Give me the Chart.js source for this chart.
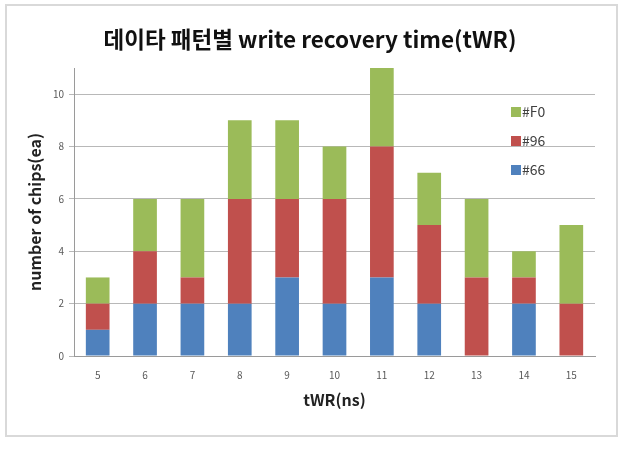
<!DOCTYPE html>
<html>
<head>
<meta charset="utf-8">
<script src="https://cdn.jsdelivr.net/npm/chart.js@4"></script>
<style>
  html, body { margin: 0; padding: 0; background: #fff; }
  #box {
    position: absolute; left: 5px; top: 4px;
    width: 613px; height: 433px;
    border: 2px solid #d9d9d9; box-sizing: border-box;
  }
  #chart { display: block; }
</style>
</head>
<body>
<div id="box"><canvas id="chart" width="609" height="429"></canvas></div>
<script>
// data
const categories = ['5', '6', '7', '8', '9', '10', '11', '12', '13', '14', '15'];
const chips66 = [1, 2, 2, 2, 3, 2, 3, 2, 0, 2, 0];
const chips96 = [1, 2, 1, 4, 3, 4, 5, 3, 3, 1, 2];
const chipsF0 = [1, 2, 3, 3, 3, 2, 3, 2, 3, 1, 3];
const yTicks = [0, 2, 4, 6, 8, 10];

const fontKr = '"Noto Sans CJK KR", "Noto Sans", sans-serif';

// legend drawn inside the plot, top item first (like the original)
const insideLegend = {
    id: 'insideLegend',
    afterDraw(chart) {
        const ctx = chart.ctx;
        const sets = chart.data.datasets.slice().reverse();
        ctx.save();
        ctx.font = '14px ' + fontKr;
        ctx.textBaseline = 'middle';
        sets.forEach((ds, i) => {
            const y = 106 + i * 29;
            ctx.fillStyle = ds.backgroundColor;
            ctx.fillRect(504, y - 5, 10, 10);
            ctx.fillStyle = '#404040';
            ctx.fillText(ds.label, 515, y);
        });
        ctx.restore();
    }
};

new Chart(document.getElementById('chart'), {
    type: 'bar',
    data: {
        labels: categories,
        datasets: [
            { label: '#66', data: chips66, backgroundColor: '#4F81BD' },
            { label: '#96', data: chips96, backgroundColor: '#C0504D' },
            { label: '#F0', data: chipsF0, backgroundColor: '#9BBB59' }
        ]
    },
    options: {
        responsive: false,
        animation: false,
        layout: { padding: { left: 18, right: 21, top: 0, bottom: 0 } },
        datasets: { bar: { barPercentage: 0.5, categoryPercentage: 1 } },
        plugins: {
            legend: { display: false },
            tooltip: { enabled: false },
            title: {
                display: true,
                text: '데이타 패턴별 write recovery time(tWR)',
                color: '#111',
                font: { family: fontKr, size: 22.5, weight: 'bold' },
                padding: { top: 20, bottom: 15 }
            }
        },
        scales: {
            x: {
                stacked: true,
                grid: { drawOnChartArea: false, drawTicks: false },
                border: { display: true, color: '#9a9a9a' },
                ticks: { color: '#595959', font: { family: fontKr, size: 10 }, padding: 13 },
                title: {
                    display: true,
                    text: 'tWR(ns)',
                    color: '#222',
                    font: { family: fontKr, size: 16, weight: 'bold' },
                    padding: { top: 0, bottom: 25 }
                },
                afterFit(scale) { scale.height = 79; }
            },
            y: {
                stacked: true,
                min: 0,
                max: 11,
                afterBuildTicks(scale) {
                    scale.ticks = yTicks.map(v => ({ value: v }));
                },
                grid: { color: '#b8b8b8', drawTicks: true, tickLength: 5 },
                border: { display: true, color: '#9a9a9a' },
                ticks: { color: '#595959', font: { family: fontKr, size: 10 }, padding: 5 },
                title: {
                    display: true,
                    text: 'number of chips(ea)',
                    color: '#222',
                    font: { family: fontKr, size: 16, weight: 'bold' },
                    padding: { top: 0, bottom: 0 }
                },
                afterFit(scale) { scale.width = 49; }
            }
        }
    },
    plugins: [insideLegend]
});
</script>
</body>
</html>
